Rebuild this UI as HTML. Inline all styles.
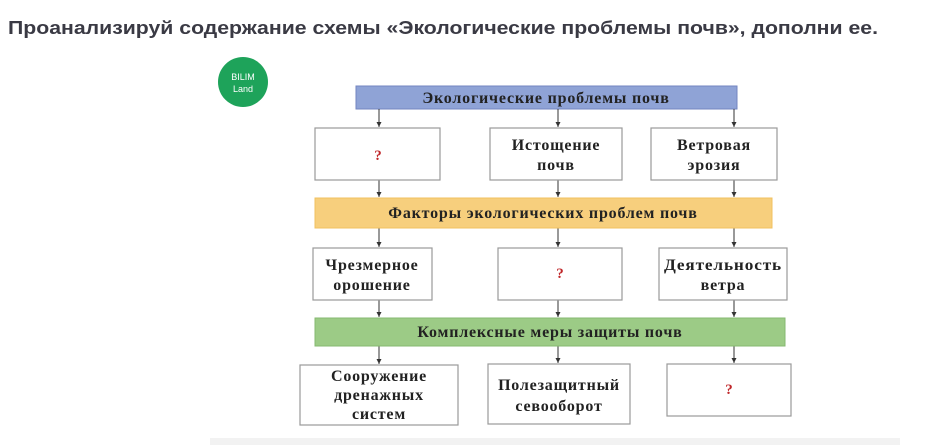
<!DOCTYPE html>
<html><head><meta charset="utf-8"><style>
html,body{margin:0;padding:0;background:#fff;width:949px;height:445px;overflow:hidden}
svg{display:block}
.h{font-family:"Liberation Sans",sans-serif;font-weight:bold;font-size:18px;fill:#3a3a44}
.t{font-family:"Liberation Serif",serif;font-weight:bold;font-size:16px;letter-spacing:0.8px;fill:#222}
.q{font-family:"Liberation Serif",serif;font-weight:bold;font-size:15px;fill:#c0282b}
.b{fill:#fff;stroke:#9a9a9a;stroke-width:1.2}
.l{stroke:#333;stroke-width:1}
</style></head><body>
<svg width="949" height="445" viewBox="0 0 949 445">
<defs><marker id="a" markerWidth="6" markerHeight="6" refX="5" refY="3" orient="auto" markerUnits="userSpaceOnUse"><path d="M0,0.5 L5,3 L0,5.5 z" fill="#333"/></marker></defs>
<text class="h" x="8" y="34" textLength="870" lengthAdjust="spacingAndGlyphs">Проанализируй содержание схемы «Экологические проблемы почв», дополни ее.</text>
<circle cx="243" cy="82" r="25" fill="#1ea35a"/>
<text x="243" y="80" text-anchor="middle" font-family="Liberation Sans,sans-serif" font-size="9" fill="#fff">BILIM</text>
<text x="243" y="92" text-anchor="middle" font-family="Liberation Sans,sans-serif" font-size="9" fill="#fff">Land</text>
<rect x="356" y="86" width="381" height="23" fill="#8fa3d6" stroke="#7386c0"/>
<text class="t" x="546" y="103" text-anchor="middle">Экологические проблемы почв</text>
<g class="l" marker-end="url(#a)">
<line x1="379" y1="109" x2="379" y2="127"/><line x1="558" y1="109" x2="558" y2="127"/><line x1="734" y1="109" x2="734" y2="127"/>
<line x1="379" y1="180" x2="379" y2="197"/><line x1="558" y1="180" x2="558" y2="197"/><line x1="734" y1="180" x2="734" y2="197"/>
<line x1="379" y1="228" x2="379" y2="247"/><line x1="558" y1="228" x2="558" y2="247"/><line x1="734" y1="228" x2="734" y2="247"/>
<line x1="379" y1="300" x2="379" y2="317"/><line x1="558" y1="300" x2="558" y2="317"/><line x1="734" y1="300" x2="734" y2="317"/>
<line x1="379" y1="346" x2="379" y2="364"/><line x1="558" y1="346" x2="558" y2="363"/><line x1="734" y1="346" x2="734" y2="363"/>
</g>
<rect class="b" x="315" y="128" width="125" height="52"/>
<text class="q" x="378" y="160" text-anchor="middle">?</text>
<rect class="b" x="490" y="128" width="132" height="52"/>
<text class="t" x="556" y="150" text-anchor="middle">Истощение</text>
<text class="t" x="556" y="170" text-anchor="middle">почв</text>
<rect class="b" x="651" y="128" width="126" height="52"/>
<text class="t" x="714" y="150" text-anchor="middle">Ветровая</text>
<text class="t" x="714" y="170" text-anchor="middle">эрозия</text>
<rect x="315" y="198" width="457" height="30" fill="#f7cf7d" stroke="#f0c060"/>
<text class="t" x="543" y="218" text-anchor="middle">Факторы экологических проблем почв</text>
<rect class="b" x="313" y="248" width="119" height="52"/>
<text class="t" x="372" y="270" text-anchor="middle">Чрезмерное</text>
<text class="t" x="372" y="290" text-anchor="middle">орошение</text>
<rect class="b" x="498" y="248" width="124" height="52"/>
<text class="q" x="560" y="278" text-anchor="middle">?</text>
<rect class="b" x="659" y="248" width="128" height="52"/>
<text class="t" x="723" y="270" text-anchor="middle" textLength="118" lengthAdjust="spacingAndGlyphs">Деятельность</text>
<text class="t" x="723" y="290" text-anchor="middle">ветра</text>
<rect x="315" y="318" width="470" height="28" fill="#9ccb86" stroke="#86b870"/>
<text class="t" x="550" y="337" text-anchor="middle">Комплексные меры защиты почв</text>
<rect class="b" x="300" y="365" width="158" height="60"/>
<text class="t" x="379" y="381" text-anchor="middle">Сооружение</text>
<text class="t" x="379" y="400" text-anchor="middle">дренажных</text>
<text class="t" x="379" y="419" text-anchor="middle">систем</text>
<rect class="b" x="488" y="364" width="142" height="60"/>
<text class="t" x="559" y="390" text-anchor="middle">Полезащитный</text>
<text class="t" x="559" y="411" text-anchor="middle">севооборот</text>
<rect class="b" x="667" y="364" width="124" height="52"/>
<text class="q" x="729" y="394" text-anchor="middle">?</text>
<rect x="210" y="438" width="690" height="7" fill="#f2f2f2"/>
</svg>
</body></html>
